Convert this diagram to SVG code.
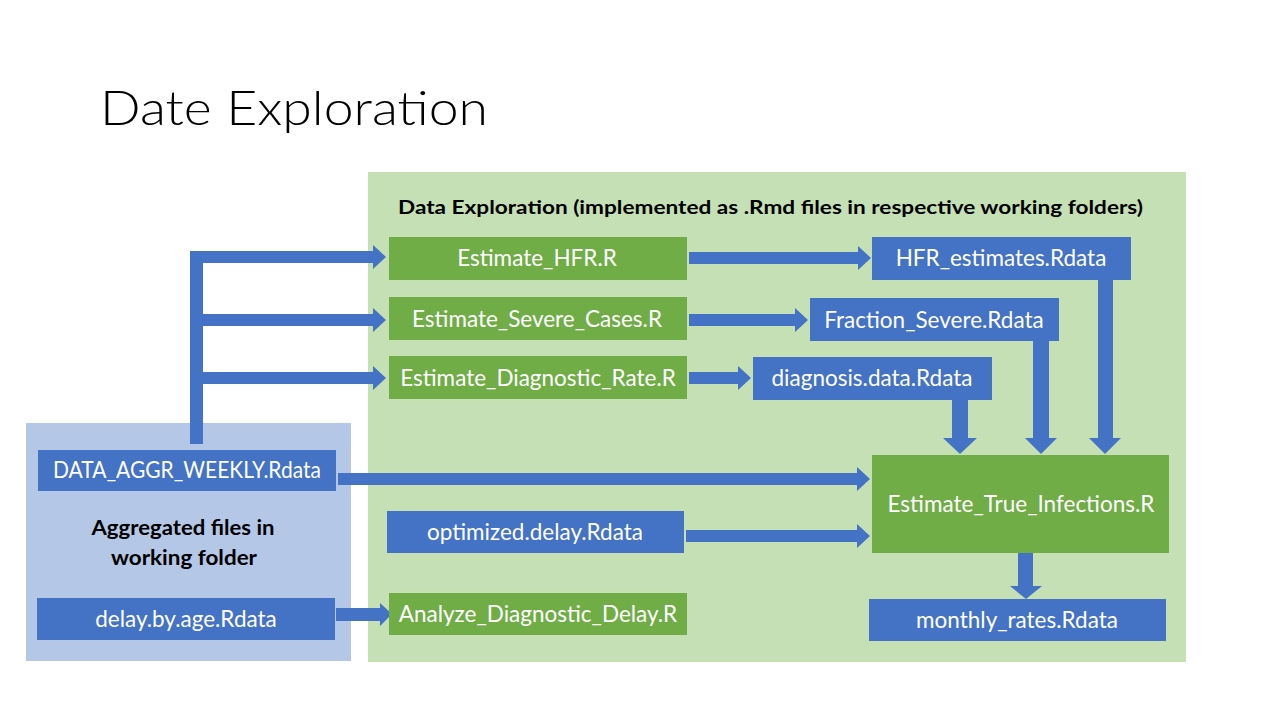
<svg xmlns="http://www.w3.org/2000/svg" width="1280" height="720" viewBox="0 0 1280 720">
  <style>
    .panel-green { fill: #C5E0B4; }
    .panel-blue { fill: #B4C7E7; }
    .data { fill: #4472C4; }
    .script { fill: #70AD47; }
    .lbl { font-family: Lato, "Liberation Sans", sans-serif; font-size: 22.5px; fill: #FFFFFF; text-anchor: middle; }
    .head { font-family: Lato, "Liberation Sans", sans-serif; font-size: 18px; font-weight: bold; fill: #000000; }
    .head2 { font-family: Lato, "Liberation Sans", sans-serif; font-size: 21px; font-weight: bold; fill: #000000; text-anchor: middle; }
    .title { font-family: Lato, "Open Sans", "Liberation Sans", sans-serif; font-size: 48px; font-weight: 300; fill: #000000; }
    .arrow { fill: #4472C4; }
  </style>

  <rect width="1280" height="720" fill="#FFFFFF"/>
  <text class="title" x="100" y="125" textLength="388" lengthAdjust="spacingAndGlyphs">Date Exploration</text>

  <!-- panels -->
  <g id="panel-exploration">
    <rect class="panel-green" x="368" y="172" width="818" height="490"/>
    <text class="head" x="398" y="214" textLength="745" lengthAdjust="spacingAndGlyphs">Data Exploration (implemented as .Rmd files in respective working folders)</text>
  </g>
  <g id="panel-aggregated">
    <rect class="panel-blue" x="26" y="423" width="325" height="238"/>
    <text class="head2" x="183" y="535" textLength="183" lengthAdjust="spacingAndGlyphs">Aggregated files in</text>
    <text class="head2" x="184" y="565" textLength="146" lengthAdjust="spacingAndGlyphs">working folder</text>
  </g>

  <!-- connectors (block arrows) -->
  <g id="connectors">
    <!-- trunk from DATA_AGGR_WEEKLY up to the three estimators -->
    <rect class="arrow" x="190" y="251" width="13" height="193"/>
    <polygon class="arrow" points="203,251 373,251 373,245 386,257 373,269 373,263 203,263"/>
    <polygon class="arrow" points="203,314 373,314 373,308 386,320 373,332 373,326 203,326"/>
    <polygon class="arrow" points="203,372 373,372 373,366 386,378 373,390 373,384 203,384"/>

    <!-- estimators to their outputs -->
    <polygon class="arrow" points="689,252 858,252 858,246 871,258 858,270 858,264 689,264"/>
    <polygon class="arrow" points="689,314 795,314 795,308 808,320 795,332 795,326 689,326"/>
    <polygon class="arrow" points="689,372 738,372 738,366 751,378 738,390 738,384 689,384"/>

    <!-- outputs down into Estimate_True_Infections.R -->
    <polygon class="arrow" points="952,400 968,400 968,438 977,438 960,454 943,438 952,438"/>
    <polygon class="arrow" points="1033,341 1049,341 1049,438 1057,438 1041,454 1025,438 1033,438"/>
    <polygon class="arrow" points="1098,280 1113,280 1113,438 1121,438 1105,454 1089,438 1098,438"/>

    <!-- inputs from the left into Estimate_True_Infections.R -->
    <polygon class="arrow" points="338,473 857,473 857,467 870,479 857,491 857,485 338,485"/>
    <polygon class="arrow" points="686,530 857,530 857,524 870,536 857,548 857,542 686,542"/>

    <!-- delay.by.age to Analyze_Diagnostic_Delay.R -->
    <polygon class="arrow" points="336,608 380,608 380,603 392,614 380,626 380,621 336,621"/>

    <!-- true infections to monthly rates -->
    <polygon class="arrow" points="1018,553 1033,553 1033,586 1042,586 1026,599 1010,586 1018,586"/>
  </g>

  <!-- nodes -->
  <g id="estimate-hfr">
    <rect class="script" x="389" y="237" width="298" height="43"/>
    <text class="lbl" x="537" y="266">Estimate_HFR.R</text>
  </g>
  <g id="estimate-severe-cases">
    <rect class="script" x="389" y="297" width="298" height="43"/>
    <text class="lbl" x="537" y="327">Estimate_Severe_Cases.R</text>
  </g>
  <g id="estimate-diagnostic-rate">
    <rect class="script" x="389" y="356" width="298" height="43"/>
    <text class="lbl" x="538" y="386">Estimate_Diagnostic_Rate.R</text>
  </g>
  <g id="hfr-estimates">
    <rect class="data" x="872" y="237" width="259" height="43"/>
    <text class="lbl" x="1001" y="266">HFR_estimates.Rdata</text>
  </g>
  <g id="fraction-severe">
    <rect class="data" x="810" y="298" width="249" height="43"/>
    <text class="lbl" x="934" y="328">Fraction_Severe.Rdata</text>
  </g>
  <g id="diagnosis-data">
    <rect class="data" x="753" y="357" width="239" height="43"/>
    <text class="lbl" x="872" y="386">diagnosis.data.Rdata</text>
  </g>
  <g id="data-aggr-weekly">
    <rect class="data" x="38" y="450" width="298" height="41"/>
    <text class="lbl" x="187" y="478" textLength="268" lengthAdjust="spacingAndGlyphs">DATA_AGGR_WEEKLY.Rdata</text>
  </g>
  <g id="optimized-delay">
    <rect class="data" x="387" y="511" width="297" height="42"/>
    <text class="lbl" x="535" y="540">optimized.delay.Rdata</text>
  </g>
  <g id="delay-by-age">
    <rect class="data" x="37" y="598" width="298" height="42"/>
    <text class="lbl" x="186" y="627">delay.by.age.Rdata</text>
  </g>
  <g id="analyze-diagnostic-delay">
    <rect class="script" x="389" y="593" width="298" height="42"/>
    <text class="lbl" x="538" y="622">Analyze_Diagnostic_Delay.R</text>
  </g>
  <g id="estimate-true-infections">
    <rect class="script" x="872" y="455" width="297" height="98"/>
    <text class="lbl" x="1021" y="512">Estimate_True_Infections.R</text>
  </g>
  <g id="monthly-rates">
    <rect class="data" x="869" y="599" width="297" height="42"/>
    <text class="lbl" x="1017" y="628">monthly_rates.Rdata</text>
  </g>
</svg>
